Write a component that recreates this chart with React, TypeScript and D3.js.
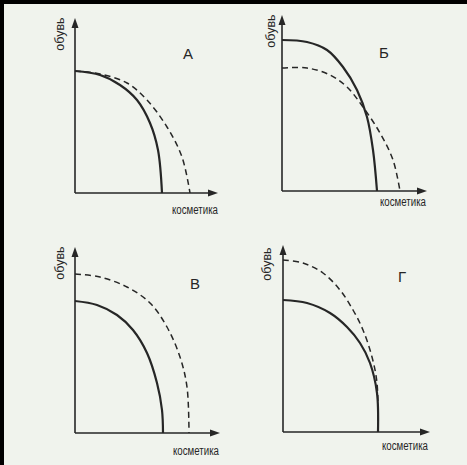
import React from "react";
import * as d3 from "d3";

// Panel letters and axis labels
const panelLetters = ["А", "Б", "В", "Г"];
const yLabel = "обувь";
const xLabel = "косметика";

// Curves: [cosmetics, shoes] in units measured from each panel's origin
const solidA: [number, number][] = [[0, 122], [25, 118], [45, 108], [62, 93], [75, 70], [83, 43], [87, 0]];
const dashedA: [number, number][] = [[0, 122], [25, 119], [52, 110], [72, 93], [92, 66], [107, 36], [115, 0]];
const solidB: [number, number][] = [[0, 151], [25, 149], [45, 141], [61, 124], [75, 101], [85, 74], [91, 41], [95, 0]];
const dashedB: [number, number][] = [[0, 123], [25, 123], [48, 116], [65, 104], [81, 84], [98, 58], [111, 31], [118, 0]];
const solidV: [number, number][] = [[0, 132], [22, 128], [42, 118], [58, 103], [72, 80], [82, 50], [87, 23], [88, 0]];
const dashedV: [number, number][] = [[0, 159], [25, 156], [52, 146], [75, 130], [92, 106], [105, 76], [112, 46], [114, 0]];
const solidG: [number, number][] = [[0, 132], [24, 129], [47, 119], [64, 105], [77, 89], [87, 69], [94, 39], [95, 0]];
const dashedG: [number, number][] = [[0, 172], [20, 169], [40, 159], [57, 142], [70, 122], [80, 102], [89, 75], [94, 49], [95, 0]];

// Axis extents (units) per panel
const xAxisLen = [143, 145, 145, 147];
const yAxisLen = [175, 176, 186, 187];

const solids = [solidA, solidB, solidV, solidG];
const dashes = [dashedA, dashedB, dashedV, dashedG];

const panels = [
  { ox: 75, oy: 193, letter: [188, 59], lab: [64, 34], xl: [195, 214] },
  { ox: 282, oy: 191, letter: [384, 58], lab: [275, 31], xl: [403, 206] },
  { ox: 75, oy: 433, letter: [195, 289], lab: [64, 263], xl: [196, 455] },
  { ox: 283, oy: 432, letter: [402, 282], lab: [271, 264], xl: [405, 450] },
];

const ink = "#262626";

function Panel({ i }: { i: number }) {
  const p = panels[i];
  const x = d3.scaleLinear().domain([0, 100]).range([p.ox, p.ox + 100]);
  const y = d3.scaleLinear().domain([0, 100]).range([p.oy, p.oy - 100]);
  const line = d3
    .line<[number, number]>()
    .x((d) => x(d[0]))
    .y((d) => y(d[1]))
    .curve(d3.curveCatmullRom.alpha(0.5));
  const xEnd = x(xAxisLen[i]);
  const yEnd = y(yAxisLen[i]);
  const font = "'Liberation Sans Narrow', 'Arial Narrow', 'Liberation Sans', Arial, sans-serif";
  return (
    <g>
      <line x1={x(0)} y1={y(0)} x2={xEnd - 6} y2={y(0)} stroke={ink} strokeWidth={1.6} />
      <line x1={x(0)} y1={y(0)} x2={x(0)} y2={yEnd + 6} stroke={ink} strokeWidth={1.6} />
      <path d={`M${xEnd},${y(0)} L${xEnd - 10},${y(0) - 3.5} L${xEnd - 10},${y(0) + 3.5} Z`} fill={ink} />
      <path d={`M${x(0)},${yEnd} L${x(0) - 3.5},${yEnd + 10} L${x(0) + 3.5},${yEnd + 10} Z`} fill={ink} />
      <path d={line(dashes[i]) || ""} fill="none" stroke={ink} strokeWidth={1.5} strokeDasharray="6,4" />
      <path d={line(solids[i]) || ""} fill="none" stroke={ink} strokeWidth={2.2} />
      <text x={p.letter[0]} y={p.letter[1]} fontSize={15} fontFamily="'Liberation Sans', Arial, sans-serif" fill={ink} textAnchor="middle">
        {panelLetters[i]}
      </text>
      <text
        transform={`translate(${p.lab[0]},${p.lab[1]}) rotate(-90)`}
        fontSize={12.5}
        fontFamily={font}
        fill={ink}
        textAnchor="middle"
      >
        {yLabel}
      </text>
      <text
        x={p.xl[0]}
        y={p.xl[1]}
        fontSize={12.5}
        fontFamily={font}
        fill={ink}
        textAnchor="middle"
        textLength={46}
        lengthAdjust="spacingAndGlyphs"
      >
        {xLabel}
      </text>
    </g>
  );
}

export default function App() {
  return (
    <svg
      width={467}
      height={465}
      style={{ position: "fixed", top: 0, left: 0, display: "block" }}
    >
      <rect x={0} y={0} width={467} height={465} fill="#f0f3ed" />
      <rect x={0} y={0} width={467} height={4} fill="#000" />
      <rect x={0} y={0} width={4} height={465} fill="#000" />
      {[0, 1, 2, 3].map((i) => (
        <Panel key={i} i={i} />
      ))}
    </svg>
  );
}
